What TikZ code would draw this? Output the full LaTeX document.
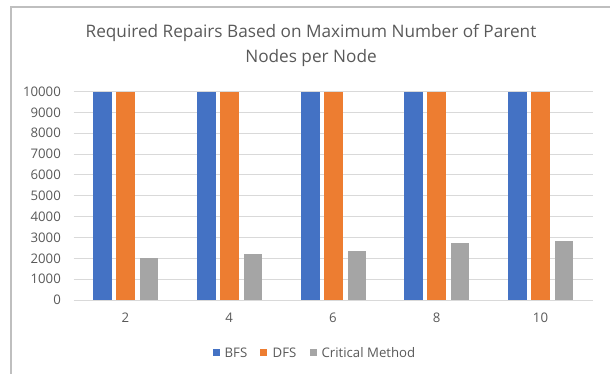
\documentclass[tikz,border=0pt]{standalone}
\usepackage{fontspec}
\setmainfont{Open Sans}
\usetikzlibrary{positioning}
\definecolor{bfsblue}{HTML}{4472C4}
\definecolor{dfsorange}{HTML}{ED7D31}
\definecolor{critgray}{HTML}{A5A5A5}
\definecolor{txtgray}{HTML}{595959}
\definecolor{gridgray}{HTML}{D9D9D9}
\definecolor{framegray}{HTML}{BFBFBF}
\tikzset{
  grid line/.style={gridgray, line width=0.9pt},
  tick label/.style={txtgray, font=\fontsize{13.2}{15}\selectfont, inner sep=0pt},
  title text/.style={txtgray, font=\fontsize{17.2}{20}\selectfont, inner sep=0pt},
  key box/.style={minimum size=7.5pt, inner sep=0pt},
}

\begin{document}
\begin{tikzpicture}[x=1pt,y=1pt]
  \useasboundingbox (0,0) rectangle (610,374);
  \draw[framegray, line width=1.2pt] (11,0) -- (11,367) -- (610,367);

  % title
  \node[title text] (title1) at (311,341) {Required Repairs Based on Maximum Number of Parent};
  \node[title text] (title2) at (311,316) {Nodes per Node};

  \begin{scope}[shift={(0pt,74pt)}, y=0.02085pt]
    % grid and value axis
    \foreach \v in {0,1000,...,10000} {
      \draw[grid line] (73.5,\v) -- (592.5,\v);
      \node[tick label, anchor=east] (tick\v) at (61,\v) {\v};
    }
    % bars: category centre / critical method value
    \foreach \c/\crit/\lab in {125.5/2000/2, 229.25/2190/4, 333/2360/6, 436.75/2740/8, 540.5/2810/10} {
      \fill[bfsblue] (\c-32.5,0) rectangle (\c-13.5,10000);
      \fill[dfsorange] (\c-9.5,0) rectangle (\c+9.5,10000);
      \fill[critgray] (\c+14.5,0) rectangle (\c+32.5,\crit);
      \node[tick label] (cat\lab) at (\c,-870) {\lab};
    }
  \end{scope}

  % legend
  \node[key box, fill=bfsblue] (keybfs) at (216.5,21.5) {};
  \node[tick label, right=4pt of keybfs] (labbfs) {BFS};
  \node[key box, fill=dfsorange] (keydfs) at (263.5,21.5) {};
  \node[tick label, right=5pt of keydfs] (labdfs) {DFS};
  \node[key box, fill=critgray] (keycrit) at (313.5,21.5) {};
  \node[tick label, right=4pt of keycrit] (labcrit) {Critical Method};
\end{tikzpicture}
\end{document}
